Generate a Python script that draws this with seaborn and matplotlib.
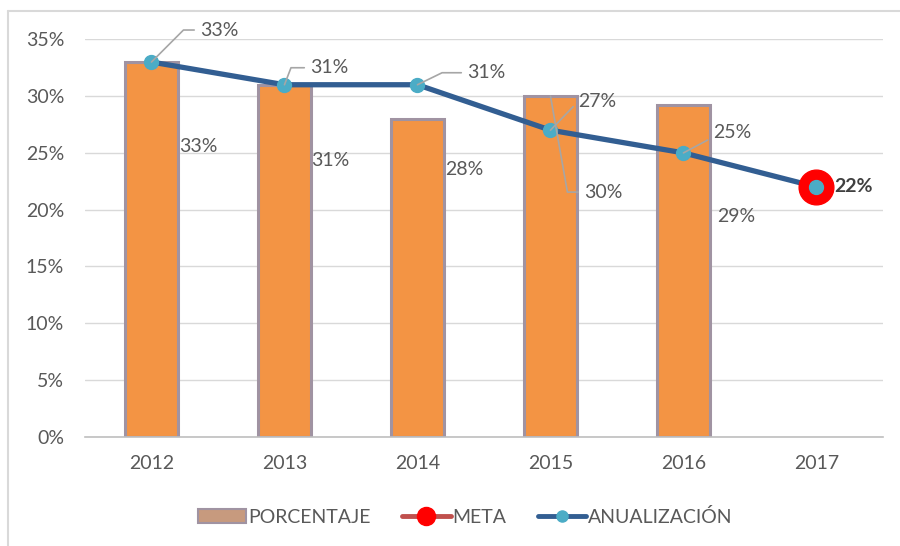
"""
Porcentaje anual vs anualización y meta 2017 — bar + line combo.
"""
import matplotlib
matplotlib.use("Agg")
import matplotlib.pyplot as plt
import numpy as np
import pandas as pd
import seaborn as sns
from matplotlib.lines import Line2D
from matplotlib.patches import Patch
from matplotlib.ticker import PercentFormatter, MultipleLocator

years = ["2012", "2013", "2014", "2015", "2016", "2017"]
porcentaje = [0.33, 0.31, 0.28, 0.30, 0.292, np.nan]
anualizacion = [0.33, 0.31, 0.31, 0.27, 0.25, 0.22]
meta = [np.nan, np.nan, np.nan, np.nan, np.nan, 0.22]

ORANGE = "#F39444"
BAR_EDGE = "#A093A2"
BLUE = "#325E92"
CYAN = "#4BACC6"
RED = "#FF0000"
TXT = "#595959"
FS = 14

sns.set_theme(style="white")
plt.rcParams["font.family"] = ["Lato", "DejaVu Sans"]

df = pd.DataFrame({"year": years, "pct": porcentaje})

fig = plt.figure(figsize=(9, 5.46), dpi=100)
ax = fig.add_axes([0.0944, 0.2, 0.8867, 0.728])

sns.barplot(data=df, x="year", y="pct", order=years, color=ORANGE,
            width=0.4, edgecolor=BAR_EDGE, linewidth=2.2, saturation=1,
            ax=ax, zorder=2)

pos = np.arange(len(years))
ax.plot(pos, anualizacion, color=BLUE, lw=3.8, zorder=3)
ax.plot(pos, meta, ls="none", marker="o", ms=25, color=RED, zorder=4)
ax.plot(pos, anualizacion, ls="none", marker="o", ms=10, color=CYAN, zorder=5)

ax.set_ylim(0, 0.35)
ax.set_xlim(-0.5, len(years) - 0.5)
ax.yaxis.set_major_locator(MultipleLocator(0.05))
ax.yaxis.set_major_formatter(PercentFormatter(1.0, decimals=0))
ax.grid(axis="y", color="#D9D9D9", lw=1, zorder=0)
ax.set_axisbelow(True)
for s in ["top", "right", "left"]:
    ax.spines[s].set_visible(False)
ax.spines["bottom"].set_color("#BFBFBF")
ax.spines["bottom"].set_linewidth(1.2)
ax.tick_params(axis="both", length=0, labelsize=FS, labelcolor=TXT)
ax.tick_params(axis="y", pad=15)
ax.tick_params(axis="x", pad=13)
ax.set_xlabel("")
ax.set_ylabel("")

lead = dict(arrowstyle="-", color="#A6A6A6", lw=1.2, shrinkB=0)

# bar labels (offsets in pixels from bar top)
bar_off = [(47, -84), (46, -76), (47, -51), (53, -96), (53, -111)]
for i, (v, off) in enumerate(zip(porcentaje, bar_off)):
    if np.isnan(v):
        continue
    kw = {}
    if i == 3:
        kw["arrowprops"] = dict(lead, connectionstyle="angle,angleA=0,angleB=-80,rad=0")
    ax.annotate(f"{v*100:.0f}%", (i, v), xytext=off, textcoords="offset pixels",
                ha="center", va="center", fontsize=FS, color=TXT, zorder=6, **kw)

# line labels
line_off = [(68, 32), (45, 17), (69, 12), (47, 29), (49, 20), (37, 0)]
line_ang = [45, 69, 26, 46, 28, None]
for i, (v, off, ang) in enumerate(zip(anualizacion, line_off, line_ang)):
    kw = {}
    if ang is not None:
        kw["arrowprops"] = dict(lead, connectionstyle=f"angle,angleA=0,angleB={ang},rad=0")
    last = i == len(years) - 1
    ax.annotate(f"{v*100:.0f}%", (i, v), xytext=off, textcoords="offset pixels",
                ha="center", va="center", fontsize=FS,
                color="#404040" if last else TXT,
                fontweight="bold" if last else "normal", zorder=6, **kw)

handles = [
    Patch(facecolor="#C79A7E", edgecolor=BAR_EDGE, lw=1.5),
    Line2D([], [], color="#C0504D", lw=3.5, marker="o", ms=13,
           markerfacecolor=RED, markeredgecolor=RED),
    Line2D([], [], color=BLUE, lw=3.5, marker="o", ms=8,
           markerfacecolor=CYAN, markeredgecolor=CYAN),
]
fig.legend(handles, ["PORCENTAJE", "META", "ANUALIZACIÓN"], loc="center",
           bbox_to_anchor=(0.517, 0.053), ncol=3, frameon=False, fontsize=FS,
           labelcolor=TXT, handlelength=2.5, handletextpad=0.1, columnspacing=1.6)

# chart frame (top and left edges)
fig.add_artist(Line2D([0.009, 1.0], [0.98, 0.98], color="#D9D9D9", lw=1.5))
fig.add_artist(Line2D([0.009, 0.009], [0.0, 0.98], color="#D9D9D9", lw=1.5))

fig.savefig("out.png", dpi=100)
